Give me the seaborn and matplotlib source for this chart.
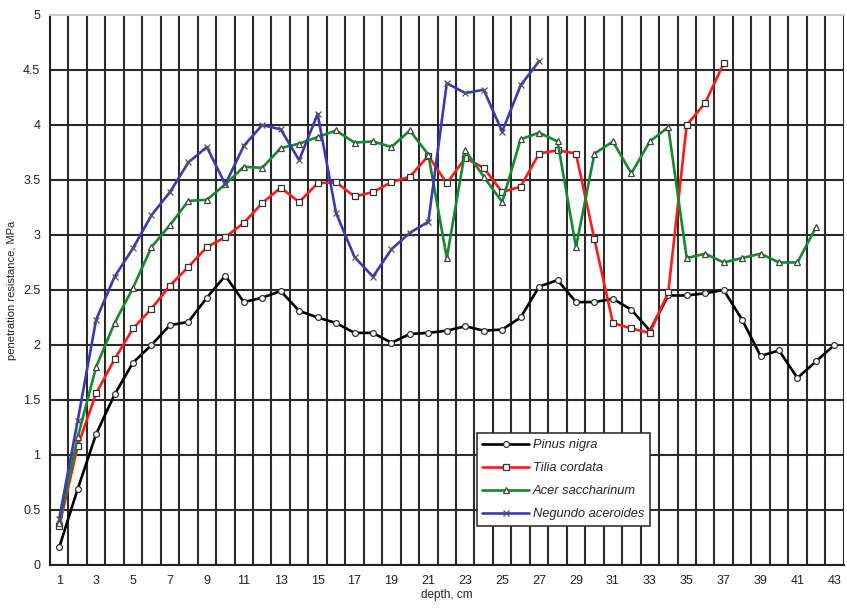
import numpy as np
import pandas as pd
import matplotlib
matplotlib.use("Agg")
import matplotlib.pyplot as plt
import seaborn as sns

# penetration resistance (MPa) by depth (cm), one list per species
pinus_nigra = [0.16, 0.69, 1.19, 1.55, 1.84, 2.00, 2.18, 2.21, 2.43, 2.63,
               2.39, 2.43, 2.49, 2.31, 2.25, 2.20, 2.11, 2.11, 2.02, 2.10,
               2.11, 2.13, 2.17, 2.13, 2.14, 2.25, 2.53, 2.59, 2.39, 2.39,
               2.42, 2.32, 2.13, 2.45, 2.45, 2.47, 2.50, 2.23, 1.90, 1.95,
               1.70, 1.85, 2.00]
tilia_cordata = [0.35, 1.08, 1.56, 1.87, 2.15, 2.33, 2.54, 2.71, 2.89, 2.98,
                 3.11, 3.29, 3.43, 3.30, 3.47, 3.48, 3.35, 3.39, 3.48, 3.53,
                 3.72, 3.47, 3.70, 3.61, 3.39, 3.44, 3.74, 3.77, 3.74, 2.96,
                 2.20, 2.15, 2.11, 2.48, 4.00, 4.20, 4.56]
acer_saccharinum = [0.38, 1.16, 1.80, 2.20, 2.52, 2.89, 3.09, 3.31, 3.32, 3.46,
                    3.62, 3.61, 3.79, 3.83, 3.89, 3.95, 3.84, 3.85, 3.80, 3.95,
                    3.73, 2.79, 3.77, 3.53, 3.30, 3.87, 3.93, 3.85, 2.89, 3.74,
                    3.85, 3.56, 3.85, 3.98, 2.79, 2.83, 2.75, 2.79, 2.83, 2.75,
                    2.75, 3.07]
negundo_aceroides = [0.42, 1.31, 2.23, 2.62, 2.88, 3.18, 3.39, 3.66, 3.80, 3.46,
                     3.81, 4.00, 3.96, 3.68, 4.10, 3.20, 2.80, 2.62, 2.87, 3.02,
                     3.12, 4.38, 4.29, 4.32, 3.94, 4.36, 4.58]

depth_ticks = list(range(1, 44, 2))
y_ticks = [0, 0.5, 1, 1.5, 2, 2.5, 3, 3.5, 4, 4.5, 5]

series = [
    ("Pinus nigra", pinus_nigra, "#000000", "o", 4.2, "#333333"),
    ("Tilia cordata", tilia_cordata, "#ff1a1a", "s", 5.0, "#333333"),
    ("Acer saccharinum", acer_saccharinum, "#138a2e", "^", 4.6, "#444444"),
    ("Negundo aceroides", negundo_aceroides, "#3a3ab4", "x", 4.6, "#555555"),
]

sns.set_style("white")
plt.rcParams["font.family"] = ["Liberation Sans", "DejaVu Sans"]

fig = plt.figure(figsize=(8.47, 6.11), dpi=100)
ax = fig.add_axes([0.059, 0.0753, 0.937, 0.9002])

for name, vals, color, marker, ms, edge in series:
    df = pd.DataFrame({"depth": np.arange(1, len(vals) + 1), "value": vals})
    sns.lineplot(data=df, x="depth", y="value", ax=ax, color=color,
                 linewidth=1.9, marker=marker, markersize=ms,
                 markerfacecolor="white" if marker != "x" else edge,
                 markeredgecolor=edge, markeredgewidth=0.9,
                 label=name, zorder=3)

ax.set_xlim(0.5, 43.5)
ax.set_ylim(0, 5)

# odd-depth labels, with grid lines between categories
ax.set_xticks(depth_ticks)
ax.set_xticklabels([str(d) for d in depth_ticks])
ax.set_xticks(np.arange(0.5, 44, 1.0), minor=True)
ax.tick_params(axis="x", which="major", length=0, pad=7, labelsize=9,
               labelcolor="#222222")
ax.tick_params(axis="x", which="minor", length=4, width=1.2,
               color="#222222", direction="out")
ax.set_yticks(y_ticks)
ax.set_yticklabels([f"{v:g}" for v in y_ticks])
ax.tick_params(axis="y", which="major", length=4, width=1.2, pad=3,
               labelsize=9, labelcolor="#222222", color="#222222")

ax.grid(False)
ax.xaxis.grid(True, which="minor", color="#2a2a2a", linewidth=1.5, zorder=0)
ax.yaxis.grid(True, which="major", color="#2a2a2a", linewidth=1.5, zorder=0)
ax.set_axisbelow(True)
ax.get_ygridlines()[-1].set_visible(False)

ax.spines["right"].set_visible(False)
ax.spines["top"].set_color("#c8c8c8")
ax.spines["top"].set_linewidth(1.5)
for side in ("left", "bottom"):
    ax.spines[side].set_color("#222222")
    ax.spines[side].set_linewidth(1.5)

ax.set_xlabel("depth, cm", fontsize=8.5, color="#222222", labelpad=2)
ax.set_ylabel("penetration resistance, MPa", fontsize=8, color="#222222",
              labelpad=4)

leg = ax.legend(loc="lower left", bbox_to_anchor=(0.5375, 0.071),
                frameon=True, fancybox=False, framealpha=1,
                edgecolor="#333333", handlelength=3.6,
                handletextpad=0.3, borderpad=0.45, labelspacing=0.85,
                borderaxespad=0,
                prop={"style": "italic", "size": 9.3})
leg.get_frame().set_linewidth(1.2)
leg.set_zorder(5)

fig.savefig("out.png", dpi=100, facecolor="white")
